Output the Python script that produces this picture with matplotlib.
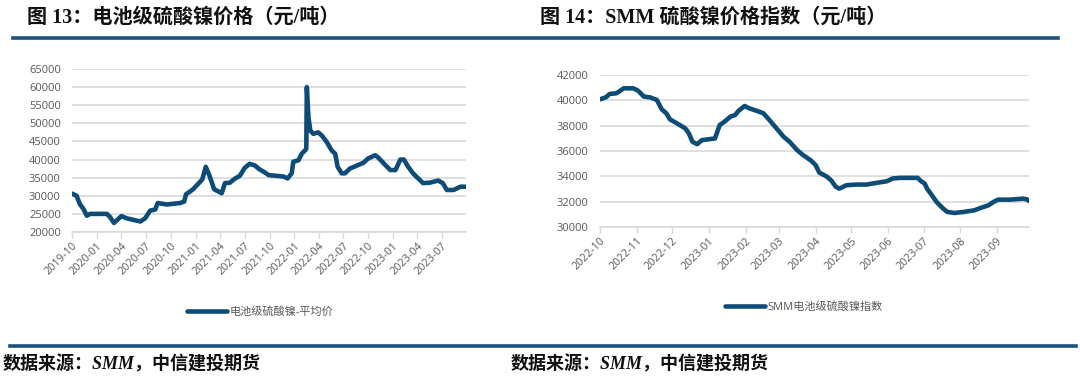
import matplotlib
matplotlib.use("Agg")
import matplotlib.pyplot as plt
import matplotlib.dates as mdates
import pandas as pd

plt.rcParams['font.family'] = ['Open Sans', 'Noto Sans CJK SC', 'DejaVu Sans']

# left chart: battery grade nickel sulphate, average price
left_dates = ['2019-10-01', '2019-10-18', '2019-10-30', '2019-11-12', '2019-11-25', '2019-12-07',
              '2020-02-07', '2020-02-19', '2020-03-04', '2020-04-01', '2020-04-19', '2020-06-10',
              '2020-06-28', '2020-07-16', '2020-08-04', '2020-08-13', '2020-09-16', '2020-11-04',
              '2020-11-19', '2020-11-26', '2020-12-22', '2021-01-25', '2021-02-01', '2021-02-07',
              '2021-02-21', '2021-03-10', '2021-04-07', '2021-04-19', '2021-05-07', '2021-05-25',
              '2021-06-13', '2021-07-01', '2021-07-19', '2021-08-07', '2021-08-25', '2021-09-10',
              '2021-09-28', '2021-10-28', '2021-11-22', '2021-12-07', '2021-12-22', '2021-12-28',
              '2022-01-16', '2022-01-28', '2022-02-09', '2022-02-14', '2022-02-16', '2022-02-22',
              '2022-03-01', '2022-03-12', '2022-03-30', '2022-04-13', '2022-05-01', '2022-05-19',
              '2022-06-01', '2022-06-10', '2022-06-25', '2022-07-07', '2022-07-25', '2022-08-19',
              '2022-09-13', '2022-10-01', '2022-10-27', '2022-11-08', '2022-11-28', '2022-12-22',
              '2023-01-10', '2023-01-28', '2023-02-10', '2023-02-26', '2023-03-16', '2023-04-04',
              '2023-04-22', '2023-05-16', '2023-06-17', '2023-07-04', '2023-07-19', '2023-08-13',
              '2023-09-07', '2023-09-28']
left_vals = [30600, 30000, 27700, 26400, 24500, 25000,
             25000, 24100, 22500, 24400, 23800, 22900,
             23800, 25900, 26200, 28000, 27600, 28000,
             28400, 30400, 31800, 34500, 36400, 38000,
             35500, 31800, 30700, 33500, 33600, 34700,
             35500, 37700, 38800, 38400, 37300, 36600,
             35700, 35500, 35300, 34800, 36200, 39400,
             39800, 41600, 42500, 43000, 60000, 51600,
             48000, 47100, 47500, 46600, 44800, 42500,
             41600, 38000, 36200, 36200, 37500, 38300,
             39100, 40300, 41200, 40500, 38900, 37100,
             37100, 40000, 40000, 38000, 36200, 34800,
             33500, 33600, 34200, 33500, 31600, 31600,
             32500, 32500]

# right chart: SMM nickel sulphate index
right_dates = ['2022-10-01', '2022-10-06', '2022-10-09', '2022-10-15', '2022-10-21', '2022-10-29',
               '2022-11-02', '2022-11-07', '2022-11-12', '2022-11-18', '2022-11-22', '2022-11-26',
               '2022-11-29', '2022-12-05', '2022-12-12', '2022-12-15', '2022-12-18', '2022-12-22',
               '2022-12-26', '2023-01-06', '2023-01-10', '2023-01-14', '2023-01-19', '2023-01-23',
               '2023-01-26', '2023-01-31', '2023-02-04', '2023-02-10', '2023-02-16', '2023-02-21',
               '2023-02-27', '2023-03-05', '2023-03-10', '2023-03-16', '2023-03-21', '2023-03-28',
               '2023-04-01', '2023-04-04', '2023-04-10', '2023-04-14', '2023-04-18', '2023-04-21',
               '2023-04-27', '2023-05-05', '2023-05-14', '2023-05-22', '2023-05-31', '2023-06-05',
               '2023-06-11', '2023-06-26', '2023-06-29', '2023-07-02', '2023-07-04', '2023-07-08',
               '2023-07-12', '2023-07-17', '2023-07-21', '2023-07-27', '2023-08-04', '2023-08-13',
               '2023-08-18', '2023-08-25', '2023-08-29', '2023-09-02', '2023-09-12', '2023-09-23',
               '2023-09-26', '2023-09-28']
right_vals = [40080, 40240, 40500, 40560, 40950, 40950,
              40770, 40300, 40240, 40030, 39300, 38970,
              38500, 38180, 37780, 37390, 36730, 36540,
              36860, 36990, 38050, 38310, 38710, 38840,
              39180, 39550, 39370, 39180, 38970, 38440,
              37780, 37120, 36730, 36100, 35700, 35250,
              34880, 34300, 34000, 33690, 33170, 33030,
              33300, 33350, 33350, 33480, 33610, 33830,
              33880, 33880, 33610, 33430, 33030, 32510,
              31980, 31500, 31190, 31110, 31190, 31320,
              31500, 31720, 31980, 32160, 32160, 32240,
              32190, 32060]

left_title = '图 13：电池级硫酸镍价格（元/吨）'
right_title = '图 14：SMM 硫酸镍价格指数（元/吨）'
left_label = '电池级硫酸镍-平均价'
right_label = 'SMM电池级硫酸镍指数'
source = '数据来源：SMM，中信建投期货'

LINE = '#0e4c78'
RULE = '#1b527f'
GRID = '#d9d9d9'
TXT = '#595959'

W, H = 1080, 376
fig = plt.figure(figsize=(W / 100, H / 100), dpi=100)


def px_axes(x0, y0, x1, y1):
    # pixel box (top-left origin) -> figure axes
    return fig.add_axes([x0 / W, 1 - y1 / H, (x1 - x0) / W, (y1 - y0) / H])


def style(ax, dates, vals, label, locator, ylim, step):
    d = pd.to_datetime(dates)
    ax.plot(d, vals, color=LINE, lw=3.3, solid_capstyle='round', solid_joinstyle='round', label=label)
    ax.set_xlim(d[0], d[-1])
    ax.set_ylim(*ylim)
    ax.set_yticks(range(ylim[0], ylim[1] + 1, step))
    ax.xaxis.set_major_locator(locator)
    ax.xaxis.set_major_formatter(mdates.DateFormatter('%Y-%m'))
    ax.grid(axis='y', color=GRID, lw=1.2)
    ax.set_axisbelow(True)
    for s in ['top', 'right', 'left']:
        ax.spines[s].set_visible(False)
    ax.spines['bottom'].set_color(GRID)
    ax.spines['bottom'].set_linewidth(1.2)
    ax.tick_params(axis='y', length=0, labelsize=8, labelcolor=TXT, pad=8)
    ax.tick_params(axis='x', length=4, color=GRID, width=1, labelsize=7.8, labelcolor=TXT, pad=2)
    for t in ax.get_xticklabels():
        t.set_rotation(45)
        t.set_ha('right')
        t.set_rotation_mode('anchor')


axl = px_axes(72, 69, 466, 232)
style(axl, left_dates, left_vals, left_label,
      mdates.MonthLocator(bymonth=[1, 4, 7, 10]), (20000, 65000), 5000)
axl.legend(loc='center', bbox_to_anchor=(260 / W, 1 - 312 / H), bbox_transform=fig.transFigure,
           frameon=False, fontsize=8, labelcolor=TXT, handlelength=3.6, handletextpad=0.2)

axr = px_axes(600, 75, 1029, 227)
style(axr, right_dates, right_vals, right_label,
      mdates.MonthLocator(), (30000, 42000), 2000)
axr.legend(loc='center', bbox_to_anchor=(804 / W, 1 - 307 / H), bbox_transform=fig.transFigure,
           frameon=False, fontsize=8, labelcolor=TXT, handlelength=3.6, handletextpad=0.2)

# titles and rules
title_font = ['Liberation Serif', 'Noto Sans CJK SC']
fig.text(27 / W, 1 - 18 / H, left_title, fontsize=14.5, fontweight='bold', va='center',
         family=title_font, color='#111111')
fig.text(540 / W, 1 - 18 / H, right_title, fontsize=14.5, fontweight='bold', va='center',
         family=title_font, color='#111111')
fig.add_artist(plt.Line2D([13 / W, 1058 / W], [1 - 37.5 / H] * 2, color=RULE, lw=2.6))
fig.add_artist(plt.Line2D([10 / W, 1076 / W], [1 - 346 / H] * 2, color=RULE, lw=2.6))
fig.text(3 / W, 1 - 364 / H, source, fontsize=13, fontweight='bold', style='italic',
         va='center', family=title_font, color='#111111')
fig.text(511 / W, 1 - 364 / H, source, fontsize=13, fontweight='bold', style='italic',
         va='center', family=title_font, color='#111111')

fig.savefig('out.png', dpi=100)
